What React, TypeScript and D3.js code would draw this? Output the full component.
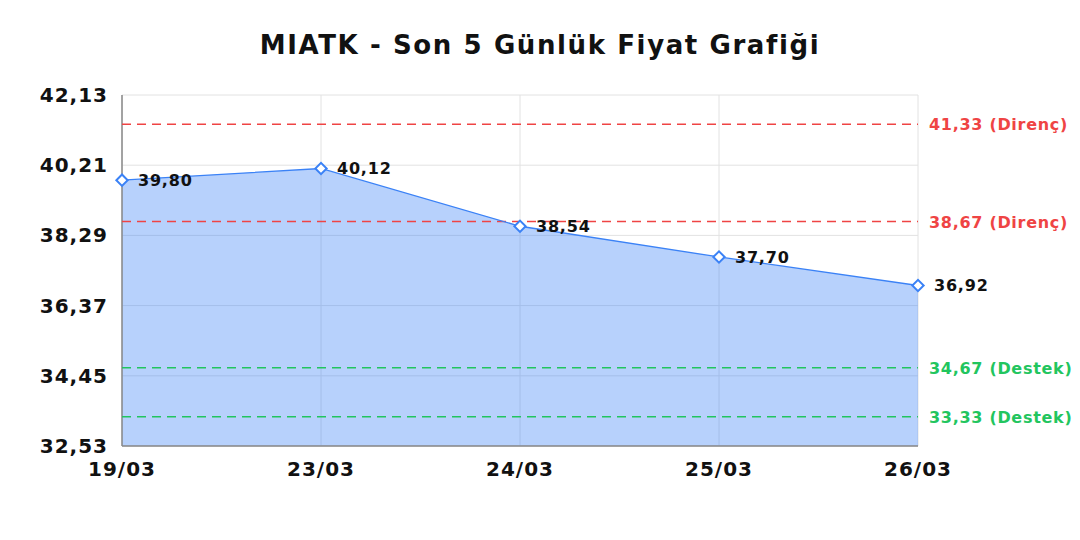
import React from 'react';
import * as d3 from 'd3';

const dates = ['19/03', '23/03', '24/03', '25/03', '26/03'];
const prices = [39.8, 40.12, 38.54, 37.7, 36.92];
const yTicks = [32.53, 34.45, 36.37, 38.29, 40.21, 42.13];
const resistance = [41.33, 38.67];
const support = [34.67, 33.33];

const width = 1080;
const height = 540;
const margin = { top: 95, right: 162, bottom: 94, left: 122 };
const font = '"DejaVu Sans", Verdana, sans-serif';
const fmt = (v: number) => v.toFixed(2).replace('.', ',');

export default function App() {
  const x = d3.scalePoint<string>()
    .domain(dates)
    .range([margin.left, width - margin.right]);

  const y = d3.scaleLinear()
    .domain([yTicks[0], yTicks[yTicks.length - 1]])
    .range([height - margin.bottom, margin.top]);

  const pts = dates.map((d, i) => ({ d, v: prices[i] }));

  const area = d3.area<{ d: string; v: number }>()
    .x(p => x(p.d)!)
    .y0(y(yTicks[0]))
    .y1(p => y(p.v));

  const line = d3.line<{ d: string; v: number }>()
    .x(p => x(p.d)!)
    .y(p => y(p.v));

  const x0 = margin.left;
  const x1 = width - margin.right;
  const yBottom = y(yTicks[0]);
  const yTop = y(yTicks[yTicks.length - 1]);

  const levels = [
    ...resistance.map(v => ({ v, color: '#ef4444', label: `${fmt(v)} (Direnç)` })),
    ...support.map(v => ({ v, color: '#22c55e', label: `${fmt(v)} (Destek)` })),
  ];

  return (
    <svg width={width} height={height} style={{ display: 'block', margin: -8, fontFamily: font }}>
      <rect width={width} height={height} fill="#fff" />
      <text x={540} y={54} textAnchor="middle" fontSize={26} fontWeight="bold" fill="#111" letterSpacing={1.6}>
        MIATK - Son 5 Günlük Fiyat Grafiği
      </text>

      {/* grid */}
      {yTicks.map(t => (
        <line key={'h' + t} x1={x0} x2={x1} y1={y(t)} y2={y(t)} stroke="#e2e2e2" strokeWidth={1} />
      ))}
      {dates.map(d => (
        <line key={'v' + d} x1={x(d)} x2={x(d)} y1={yTop} y2={yBottom} stroke="#e2e2e2" strokeWidth={1} />
      ))}

      <path d={area(pts)!} fill="rgba(59,130,246,0.37)" />

      {/* axes */}
      <line x1={x0} x2={x0} y1={yTop} y2={yBottom} stroke="#888" strokeWidth={1.5} />
      <line x1={x0} x2={x1} y1={yBottom} y2={yBottom} stroke="#888" strokeWidth={1.5} />

      {levels.map(l => (
        <g key={l.label}>
          <line x1={x0} x2={x1} y1={y(l.v)} y2={y(l.v)} stroke={l.color} strokeWidth={1.3} strokeDasharray="9,6" />
          <text x={x1 + 11} y={y(l.v) + 6} fontSize={16} fontWeight="bold" fill={l.color} letterSpacing={0.7}>{l.label}</text>
        </g>
      ))}

      <path d={line(pts)!} fill="none" stroke="#3b82f6" strokeWidth={1.3} />
      {pts.map(p => (
        <g key={p.d}>
          <rect
            x={-4} y={-4} width={8} height={8}
            transform={`translate(${x(p.d)},${y(p.v)}) rotate(45)`}
            fill="#fff" stroke="#3b82f6" strokeWidth={2}
          />
          <text x={x(p.d)! + 16} y={y(p.v) + 6} fontSize={16} fontWeight="bold" fill="#111" letterSpacing={0.8}>{fmt(p.v)}</text>
        </g>
      ))}

      {yTicks.map(t => (
        <text key={'yl' + t} x={x0 - 14} y={y(t) + 7} textAnchor="end" fontSize={20} fontWeight="bold" fill="#111" letterSpacing={1}>
          {fmt(t)}
        </text>
      ))}
      {dates.map(d => (
        <text key={'xl' + d} x={x(d)} y={yBottom + 30} textAnchor="middle" fontSize={20} fontWeight="bold" fill="#111" letterSpacing={1}>
          {d}
        </text>
      ))}
    </svg>
  );
}
